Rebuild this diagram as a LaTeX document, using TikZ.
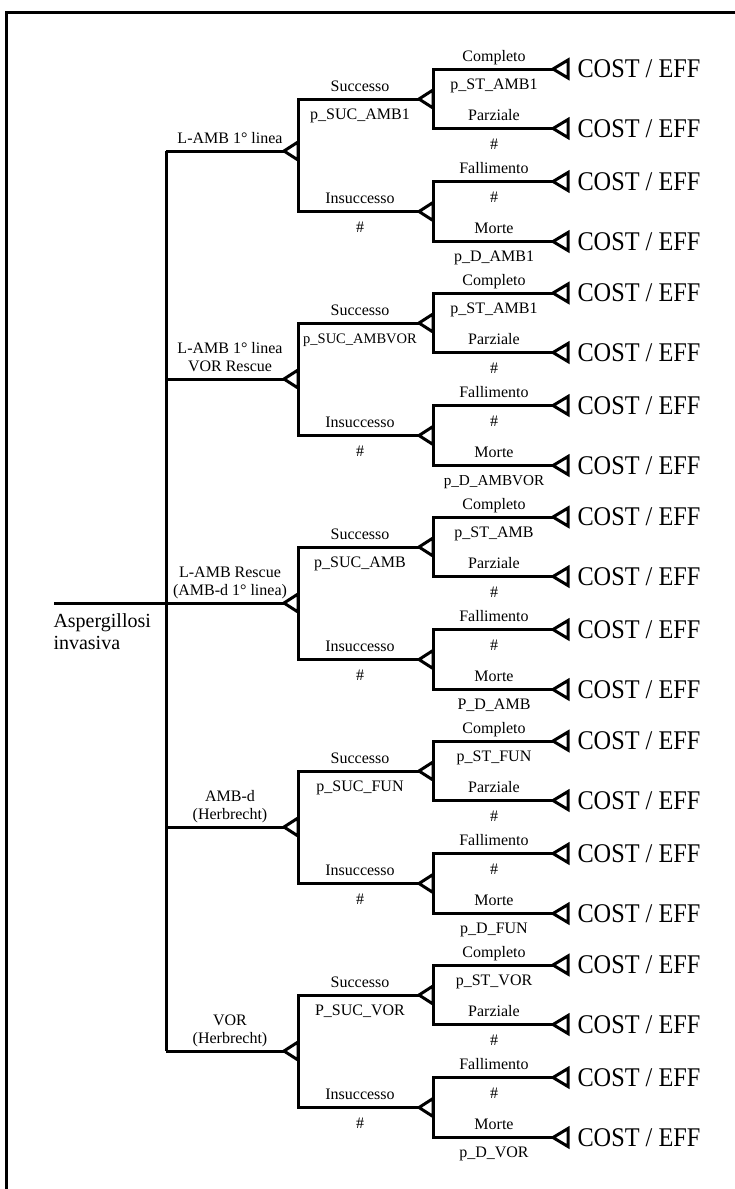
\documentclass[tikz,border=0pt]{standalone}
\usepackage{fontspec}
\setmainfont{Liberation Serif}
\newfontfamily\condserif[FakeStretch=0.9]{Liberation Serif}
\begin{document}
\begin{tikzpicture}[x=1pt,y=-1pt, line width=3pt,
  lbl/.style={font=\fontsize{16}{18}\selectfont, inner sep=0pt, anchor=base},
  term/.style={font=\condserif\fontsize{27}{30}\selectfont, inner sep=0pt, anchor=base west},
  big/.style={font=\fontsize{20}{22}\selectfont, inner sep=0pt, anchor=base west},
  chance/.pic={\draw[fill=white] (0,0) -- (14,-9) -- (14,9) -- cycle;},
  endnode/.pic={\draw[fill=white] (0,0) -- (15,-9) -- (15,9) -- cycle;}]
\useasboundingbox (0,0) rectangle (734,1189);
% frame
\draw (6,1195) -- (6,12) -- (740,12);

\newcommand\grp[7]{%
 \pgfmathsetmacro\gB{224*#1}%
 \pgfmathsetmacro\gA{\gB+#2}%
 \pgfmathsetmacro\gS{\gB+99}%
 \pgfmathsetmacro\gI{\gB+211.5}%
 \pgfmathsetmacro\gC{\gB+69}%
 \pgfmathsetmacro\gP{\gB+128.5}%
 \pgfmathsetmacro\gF{\gB+181.5}%
 \pgfmathsetmacro\gM{\gB+241.5}%
 \coordinate (g#1) at (166,\gA);
 \coordinate (t#1) at (284,\gA);
 \coordinate (b#1) at (298,\gA);
 \coordinate (s#1) at (419,\gS);
 \coordinate (i#1) at (419,\gI);
 \coordinate (bs#1) at (433,\gS);
 \coordinate (bi#1) at (433,\gI);
 \coordinate (tc#1) at (553,\gC);
 \coordinate (tp#1) at (553,\gP);
 \coordinate (tf#1) at (553,\gF);
 \coordinate (tm#1) at (553,\gM);
 \draw (g#1) -- (t#1);
 \draw (s#1) -| (b#1) |- (i#1);
 \draw (tc#1) -| (bs#1) |- (tp#1);
 \draw (tf#1) -| (bi#1) |- (tm#1);
 \pic at (t#1) {chance};
 \pic at (s#1) {chance};
 \pic at (i#1) {chance};
 \pic at (tc#1) {endnode};
 \pic at (tp#1) {endnode};
 \pic at (tf#1) {endnode};
 \pic at (tm#1) {endnode};
 % first level label
 \node[lbl] (la#1) at (230,\gA-8) {#4};
 \if\relax\detokenize{#3}\relax\else
 \node[lbl] (lb#1) at (230,\gA-26) {#3};
 \fi
 % second level
 \node[lbl] (ns#1) at (360,\gS-8) {Successo};
 \node[lbl] (ps#1) at (360,\gS+20) {#5};
 \node[lbl] (ni#1) at (360,\gI-8) {Insuccesso};
 \node[lbl] (pi#1) at (360,\gI+21) {\#};
 % third level
 \node[lbl] (nc#1) at (494,\gC-8) {Completo};
 \node[lbl] (pc#1) at (494,\gC+20) {#6};
 \node[lbl] (np#1) at (494,\gP-8) {Parziale};
 \node[lbl] (pp#1) at (494,\gP+21) {\#};
 \node[lbl] (nf#1) at (494,\gF-8) {Fallimento};
 \node[lbl] (pf#1) at (494,\gF+21) {\#};
 \node[lbl] (nm#1) at (494,\gM-8) {Morte};
 \node[lbl] (pm#1) at (494,\gM+20) {#7};
 % outcomes
 \node[term] (ec#1) at (576,\gC+8.5) {COST / EFF};
 \node[term] (ep#1) at (576,\gP+8.5) {COST / EFF};
 \node[term] (ef#1) at (576,\gF+8.5) {COST / EFF};
 \node[term] (em#1) at (576,\gM+8.5) {COST / EFF};
}

\grp{0}{151}{}{L-AMB 1° linea}{p\_SUC\_AMB1}{p\_ST\_AMB1}{p\_D\_AMB1}
\grp{1}{155}{L-AMB 1° linea}{VOR Rescue}{\fontsize{14.5}{18}\selectfont p\_SUC\_AMBVOR}{p\_ST\_AMB1}{\fontsize{15.2}{18}\selectfont p\_D\_AMBVOR}
\grp{2}{155}{L-AMB Rescue}{(AMB-d 1° linea)}{p\_SUC\_AMB}{p\_ST\_AMB}{P\_D\_AMB}
\grp{3}{155}{AMB-d}{(Herbrecht)}{p\_SUC\_FUN}{p\_ST\_FUN}{p\_D\_FUN}
\grp{4}{155}{VOR}{(Herbrecht)}{P\_SUC\_VOR}{p\_ST\_VOR}{p\_D\_VOR}

% trunk and root
\coordinate (root) at (54,603);
\draw (g0) -- (g4);
\draw (root) -- (g2);
\node[big] (asp) at (52,627) {Aspergillosi};
\node[big] (inv) at (52,649) {invasiva};
\end{tikzpicture}
\end{document}
